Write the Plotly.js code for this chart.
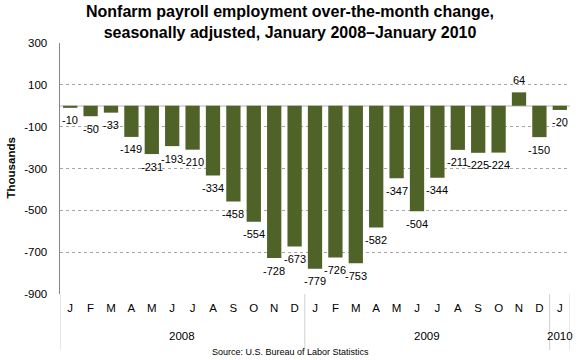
<!DOCTYPE html>
<html>
<head>
<meta charset="utf-8">
<script src="https://cdn.plot.ly/plotly-3.0.1.min.js"></script>
<style>html,body{margin:0;padding:0;background:#fff;}#chart{width:580px;height:360px;}</style>
</head>
<body>
<div id="chart"></div>
<script>
const months = ['Jan 2008','Feb 2008','Mar 2008','Apr 2008','May 2008','Jun 2008','Jul 2008','Aug 2008','Sep 2008','Oct 2008','Nov 2008','Dec 2008',
                'Jan 2009','Feb 2009','Mar 2009','Apr 2009','May 2009','Jun 2009','Jul 2009','Aug 2009','Sep 2009','Oct 2009','Nov 2009','Dec 2009',
                'Jan 2010'];
const monthLetters = ['J','F','M','A','M','J','J','A','S','O','N','D','J','F','M','A','M','J','J','A','S','O','N','D','J'];
const changes = [-10,-50,-33,-149,-231,-193,-210,-334,-458,-554,-728,-673,-779,-726,-753,-582,-347,-504,-344,-211,-225,-224,64,-150,-20];
const years = ['2008','2009','2010'];
const yearCenters = [5.5, 17.5, 24];
const yearBoundaries = [-0.5, 11.5, 23.5, 24.5];
const yTicks = [300,100,-100,-300,-500,-700,-900];
const yTickLabels = ['300','100','-100','-300','-500','-700','-900'];

const FONT = 'Arial, "Liberation Sans", sans-serif';
const PAGE_CENTER = (290 - 60) / 510;

const annotations = changes.map((v,i)=>({
  x: months[i], y: v, xref:'x', yref:'y',
  text: String(v), showarrow:false,
  yanchor:'middle', yshift: v >= 0 ? 12.5 : -12.5,
  font:{family:FONT,size:11,color:'#000'}
}));
years.forEach((yr,i)=>annotations.push({
  x: yearCenters[i], y: -0.167, xref:'x', yref:'paper', text: yr, showarrow:false,
  yanchor:'middle', font:{family:FONT,size:11.5,color:'#000'}
}));
annotations.push({
  x:PAGE_CENTER, xref:'paper', xanchor:'center', y:-0.231, yref:'paper', yanchor:'middle', showarrow:false,
  text:'Source: U.S. Bureau of Labor Statistics', font:{family:FONT,size:9,color:'#000'}
});
annotations.push({
  x:0, xref:'paper', xshift:-50, xanchor:'center', y:0.5, yref:'paper', yanchor:'middle', showarrow:false,
  textangle:-90, text:'<b>Thousands</b>', font:{family:FONT,size:11.5,color:'#000'}
});
annotations.push({
  x:PAGE_CENTER, xref:'paper', xanchor:'center', y:1, yref:'paper', yanchor:'bottom', yshift:0, showarrow:false,
  text:'<b>Nonfarm payroll employment over-the-month change,<br>seasonally adjusted, January 2008\u2013January 2010</b>',
  font:{family:FONT, size:16, color:'#000'}
});

const shapes = yearBoundaries.map(b=>({
  type:'line', xref:'x', yref:'paper', x0:b, x1:b, y0:0, y1:-0.223,
  line:{color:'#d0d0d0', width:1}
}));

const data = [{
  type:'bar', x: months, y: changes,
  marker:{color:'#4F6228'},
  hoverinfo:'x+y'
}];

const layout = {
  width:580, height:360,
  margin:{l:60, r:10, t:43, b:66},
  paper_bgcolor:'#fff', plot_bgcolor:'#fff',
  showlegend:false,
  bargap:0.3,
  font:{family:FONT, size:11.5, color:'#000'},
  xaxis:{
    type:'category', range:[-0.5, months.length - 0.5], autorange:false,
    tickmode:'array', tickvals: months, ticktext: monthLetters,
    showgrid:false, zeroline:false, showline:false, ticks:'',
    ticklabelstandoff:5,
    tickfont:{family:FONT,size:11.5,color:'#000'}, fixedrange:true
  },
  yaxis:{
    range:[-900,300], autorange:false, tickmode:'array', tickvals:yTicks, ticktext:yTickLabels,
    showgrid:true, gridcolor:'#a6a6a6', griddash:'dot', gridwidth:1,
    zeroline:true, zerolinecolor:'#d9d9d9', zerolinewidth:1.5,
    showline:true, linecolor:'#868686', linewidth:1.5, ticks:'',
    ticklabelstandoff:9,
    tickfont:{family:FONT,size:11.5,color:'#000'}, fixedrange:true
  },
  annotations, shapes
};
Plotly.newPlot('chart', data, layout, {displayModeBar:false, staticPlot:true});
</script>
</body>
</html>
